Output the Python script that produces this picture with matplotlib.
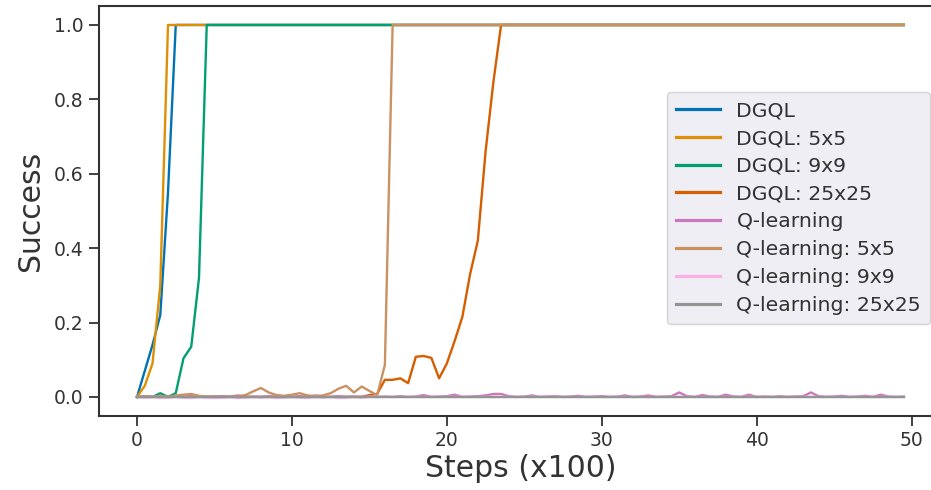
import matplotlib
matplotlib.use('Agg')
import matplotlib.pyplot as plt
import numpy as np

# steps (x100), one point every 50 steps
steps = np.arange(100) * 0.5

dgql = [0.0, 0.07, 0.14, 0.22, 0.55] + [1.0] * 95
dgql_5 = [0.0, 0.03, 0.09, 0.30] + [1.0] * 96
dgql_9 = [0.0, 0.0, 0.0, 0.01, 0.0, 0.01, 0.104, 0.135, 0.32] + [1.0] * 91
dgql_25 = ([0.0] * 30 +
           [0.005, 0.008, 0.046, 0.046, 0.05, 0.037, 0.108, 0.11, 0.105, 0.05,
            0.09, 0.15, 0.215, 0.33, 0.42, 0.66, 0.845] + [1.0] * 53)

q = [0.0, 0.001, 0.0, 0.002, 0.0, 0.001, 0.0, 0.002, 0.0, 0.001,
     0.0, 0.002, 0.001, 0.004, 0.0, 0.001, 0.0, 0.002, 0.0, 0.001,
     0.0, 0.002, 0.0, 0.004, 0.001, 0.0, 0.002, 0.0, 0.001, 0.0,
     0.002, 0.0, 0.001, 0.0, 0.002, 0.0, 0.001, 0.005, 0.0, 0.001,
     0.002, 0.006, 0.0, 0.001, 0.002, 0.004, 0.008, 0.008, 0.002, 0.0,
     0.001, 0.004, 0.0, 0.001, 0.002, 0.0, 0.001, 0.003, 0.0, 0.001,
     0.002, 0.0, 0.001, 0.004, 0.0, 0.001, 0.004, 0.0, 0.001, 0.002,
     0.012, 0.002, 0.0, 0.005, 0.001, 0.0, 0.006, 0.001, 0.0, 0.006,
     0.0, 0.001, 0.0, 0.002, 0.0, 0.001, 0.002, 0.012, 0.002, 0.0,
     0.001, 0.003, 0.0, 0.001, 0.003, 0.0, 0.006, 0.001, 0.0, 0.001]
q_5 = ([0.0, 0.002, 0.0, 0.003, 0.0, 0.004, 0.006, 0.008, 0.003, 0.0,
        0.002, 0.0, 0.0, 0.002, 0.005, 0.015, 0.024, 0.012, 0.005, 0.003,
        0.006, 0.01, 0.004, 0.002, 0.004, 0.01, 0.022, 0.03, 0.012, 0.028,
        0.016, 0.005, 0.086] + [1.0] * 67)
q_9 = [0.0, -0.002, 0.0, -0.003, -0.002, 0.0, -0.002, -0.003, 0.0, -0.002,
       -0.003, -0.002, 0.0, -0.003, -0.002, 0.0, -0.002, 0.0, -0.003, -0.002,
       0.0, -0.002, -0.003, 0.0, -0.002, 0.0, -0.003, -0.002, 0.0, -0.002] + [0.0] * 70
q_25 = [0.0] * 100

series = [dgql, dgql_5, dgql_9, dgql_25, q, q_5, q_9, q_25]
labels = ['DGQL', 'DGQL: 5x5', 'DGQL: 9x9', 'DGQL: 25x25',
          'Q-learning', 'Q-learning: 5x5', 'Q-learning: 9x9', 'Q-learning: 25x25']
colors = ['#0173B2', '#DE8F05', '#029E73', '#D55E00',
          '#CC78BC', '#CA9161', '#FBAFE4', '#949494']

fig = plt.figure(figsize=(9.31, 4.9), dpi=100)
ax = fig.add_axes([0.106, 0.152, 0.906, 0.835])

for ys, lab, c in zip(series, labels, colors):
    ax.plot(steps, ys, color=c, lw=1.7, label=lab)

ax.set_xticks([0, 10, 20, 30, 40, 50])
ax.set_yticks([0.0, 0.2, 0.4, 0.6, 0.8, 1.0])
ax.set_ylim(-0.05, 1.05)
ax.set_xlabel('Steps (x100)', fontsize=21.5, color='#333333', labelpad=3)
ax.set_ylabel('Success', fontsize=21.5, color='#333333', labelpad=6)
ax.tick_params(labelsize=13.5, length=7, width=1.3, colors='#333333', pad=4)
for sp in ax.spines.values():
    sp.set_linewidth(1.5)
    sp.set_color('#333333')
# the original picture is cut just before the right spine
ax.spines['right'].set_visible(False)

leg = ax.legend(loc='upper left', bbox_to_anchor=(0.7164, 0.812),
                bbox_transform=fig.transFigure, borderaxespad=0, fontsize=14.7,
                handlelength=2.15, labelspacing=0.43, borderpad=0.45,
                facecolor='#EAEAF2', edgecolor='#CCCCCC', framealpha=0.8)
for t in leg.get_texts():
    t.set_color('#333333')
for l in leg.get_lines():
    l.set_linewidth(2.3)

fig.savefig('out.png', dpi=100)
